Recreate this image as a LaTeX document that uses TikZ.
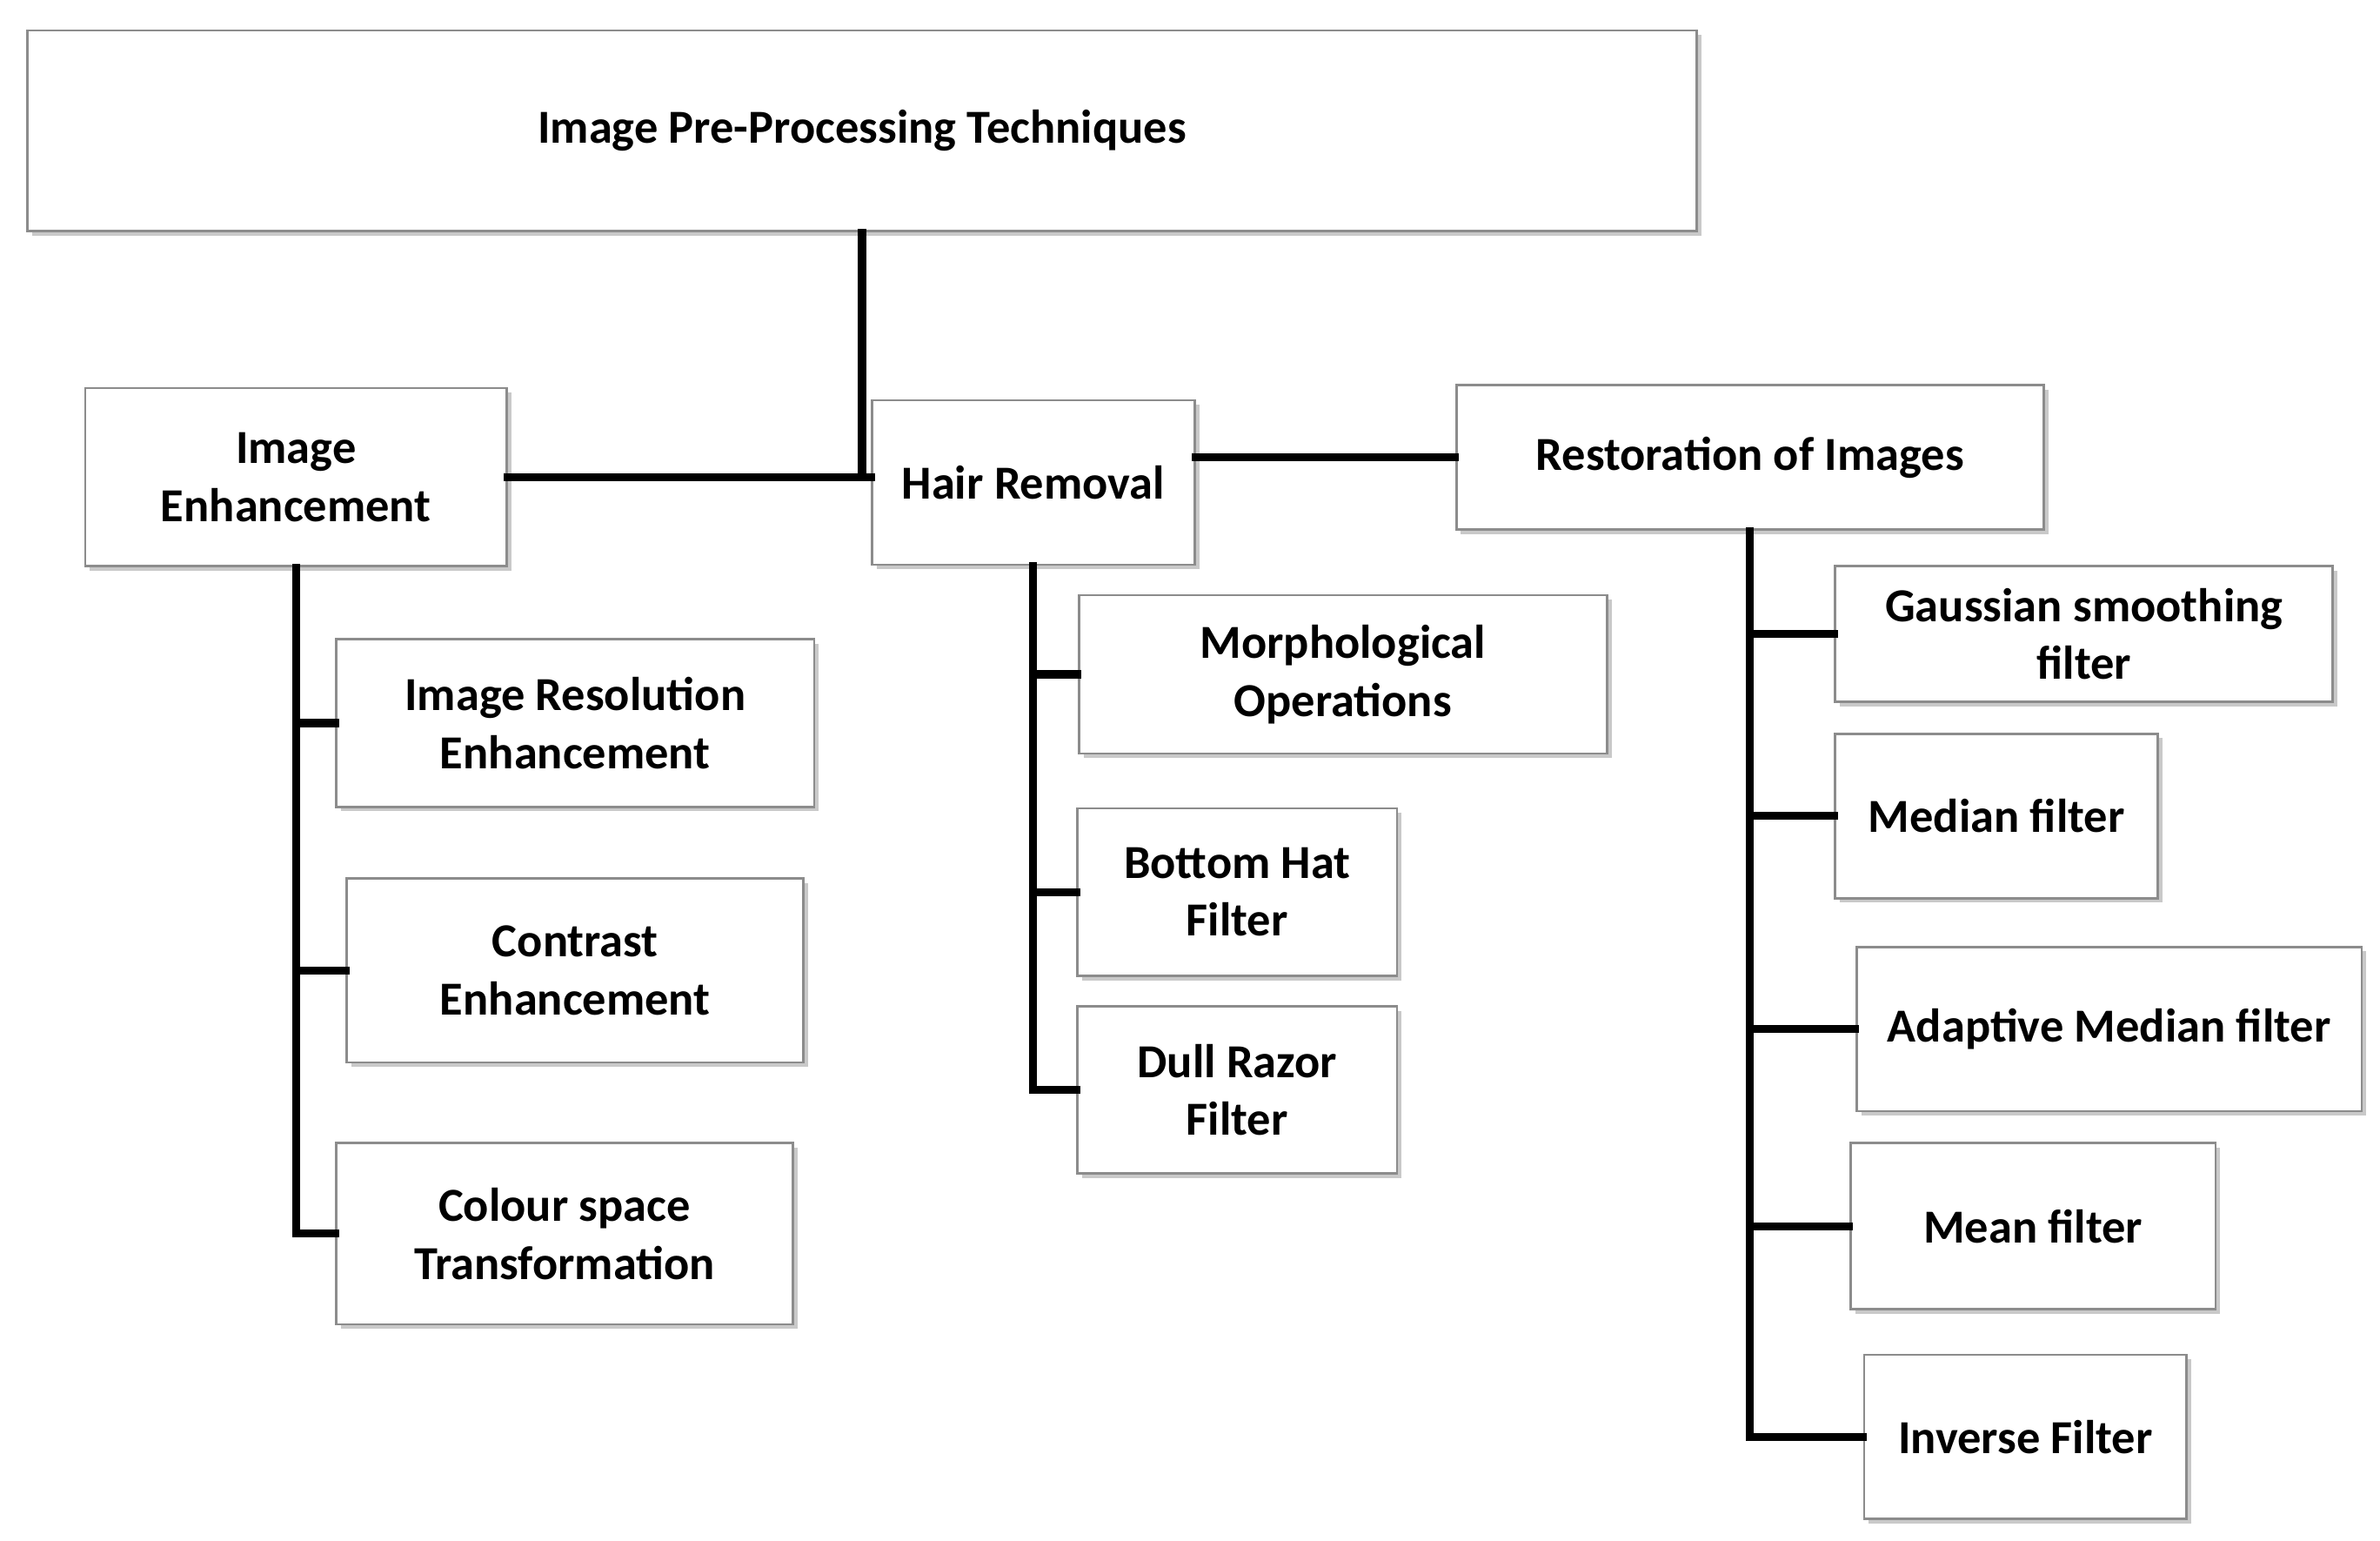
\documentclass[tikz,border=0pt]{standalone}
\usepackage{fontspec}
\setmainfont{Carlito}
\usetikzlibrary{shadows}
\begin{document}
\begin{tikzpicture}[x=0.0175cm,y=-0.0175cm,
  box/.style={draw=black!45,line width=0.8pt,fill=white,align=center,inner sep=0pt,
    font=\fontsize{15.5}{19}\selectfont\bfseries,
    drop shadow={shadow xshift=1.5pt,shadow yshift=-1.5pt,fill=black!35,opacity=0.6}},
  link/.style={line width=2.6pt,line cap=rect}]
\useasboundingbox[fill=white] (0,0) rectangle (1564,1012);
\newcommand\bx[6]{\node[box,minimum width={(#4-#2)*0.0175cm},minimum height={(#5-#3)*0.0175cm}] (#1) at ({(#2+#4)/2},{(#3+#5)/2}) {#6};}
\bx{top}{18}{20}{1115}{152}{Image Pre-Processing Techniques}
\bx{ie}{56}{255}{333}{372}{Image\\Enhancement}
\bx{hair}{573}{263}{785}{371}{Hair Removal}
\bx{resto}{957}{253}{1343}{348}{Restoration of Images}
\bx{ire}{221}{420}{535}{530}{Image Resolution\\Enhancement}
\bx{ce}{228}{577}{528}{698}{Contrast\\Enhancement}
\bx{cs}{221}{751}{521}{870}{Colour space\\Transformation}
\bx{mo}{709}{391}{1056}{495}{Morphological\\Operations}
\bx{bh}{708}{531}{918}{641}{Bottom Hat\\Filter}
\bx{dr}{708}{661}{918}{771}{Dull Razor\\Filter}
\bx{ga}{1206}{372}{1533}{461}{Gaussian smoothing\\filter}
\bx{me}{1206}{482}{1418}{590}{Median filter}
\bx{am}{1220}{622}{1552}{730}{Adaptive Median filter}
\bx{mf}{1216}{751}{1456}{860}{Mean filter}
\bx{inv}{1225}{890}{1437}{998}{Inverse Filter}
\draw[link] (top.south) -- (top.south |- ie.east);
\draw[link] (ie.east) -- (hair.west |- ie.east);
\draw[link] (hair.east |- resto.west) -- (resto.west);
\draw[link] (ie.south) |- (cs.west);
\draw[link] (ie.south |- ire.west) -- (ire.west);
\draw[link] (ie.south |- ce.west) -- (ce.west);
\draw[link] (hair.south) |- (dr.west);
\draw[link] (hair.south |- mo.west) -- (mo.west);
\draw[link] (hair.south |- bh.west) -- (bh.west);
\draw[link] (resto.south) |- (inv.west);
\draw[link] (resto.south |- ga.west) -- (ga.west);
\draw[link] (resto.south |- me.west) -- (me.west);
\draw[link] (resto.south |- am.west) -- (am.west);
\draw[link] (resto.south |- mf.west) -- (mf.west);
\end{tikzpicture}
\end{document}
